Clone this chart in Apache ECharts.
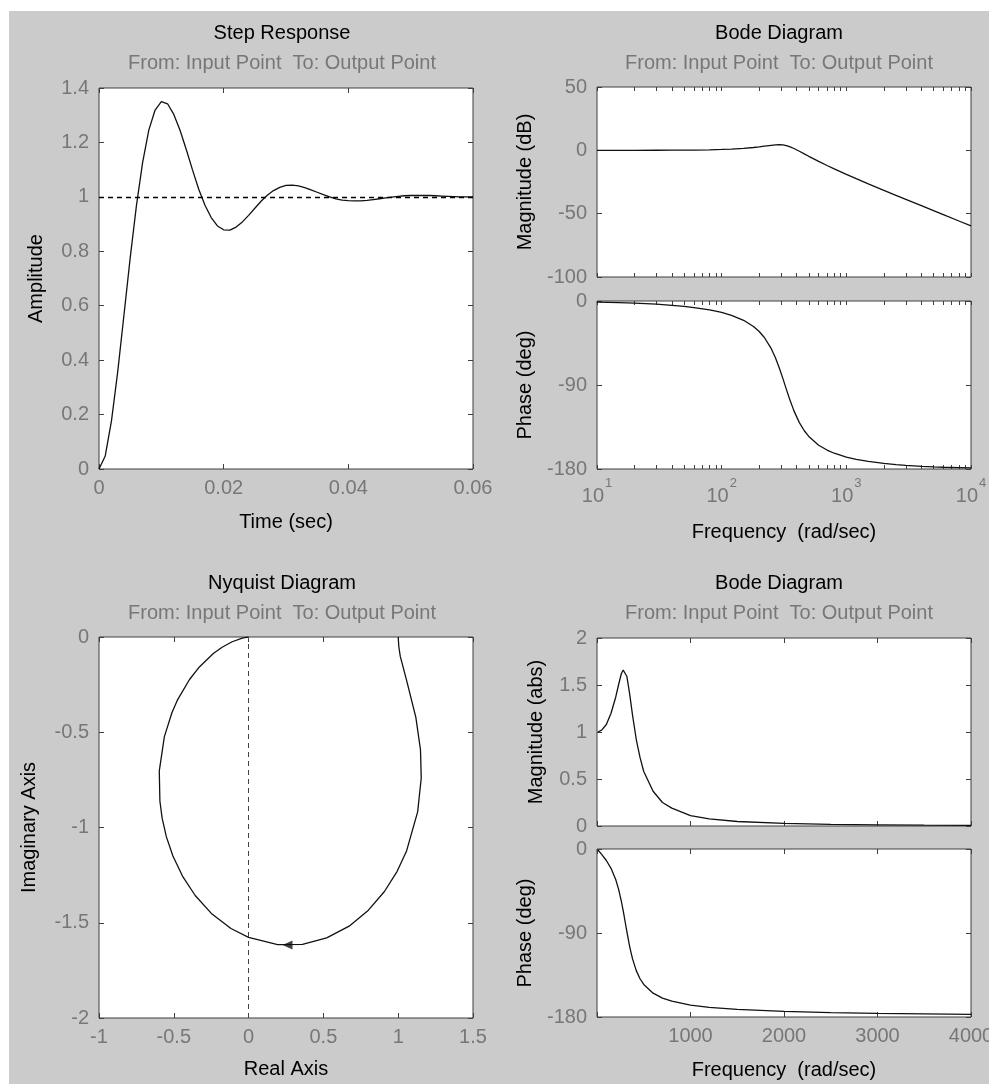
<!DOCTYPE html>
<html>
<head>
<meta charset="utf-8">
<script src="https://cdn.jsdelivr.net/npm/echarts@6/dist/echarts.min.js"></script>
<style>
html, body { margin: 0; padding: 0; background: #fff; }
#chart { position: absolute; left: 9px; top: 11px; width: 980px; height: 1073px; }
</style>
</head>
<body>
<div id="chart"></div>
<script>
// step response (sec / amplitude)
const stepTime = [0, 0.001, 0.002, 0.003, 0.004, 0.005, 0.006, 0.007, 0.008, 0.009,
  0.010, 0.011, 0.012, 0.013, 0.014, 0.015, 0.016, 0.017, 0.018, 0.019,
  0.020, 0.021, 0.022, 0.023, 0.024, 0.025, 0.026, 0.027, 0.028, 0.029,
  0.030, 0.031, 0.032, 0.033, 0.034, 0.035, 0.036, 0.037, 0.038, 0.039,
  0.040, 0.041, 0.042, 0.043, 0.044, 0.045, 0.046, 0.047, 0.048, 0.049,
  0.050, 0.051, 0.052, 0.053, 0.054, 0.055, 0.056, 0.057, 0.058, 0.059, 0.060];
const stepAmp = [0, 0.048, 0.177, 0.357, 0.565, 0.775, 0.967, 1.127, 1.246, 1.319,
  1.350, 1.342, 1.303, 1.245, 1.174, 1.099, 1.028, 0.969, 0.924, 0.893,
  0.879, 0.878, 0.889, 0.908, 0.932, 0.958, 0.984, 1.006, 1.023, 1.035,
  1.042, 1.043, 1.040, 1.034, 1.026, 1.017, 1.008, 1.000, 0.993, 0.988,
  0.986, 0.985, 0.985, 0.987, 0.990, 0.993, 0.996, 0.999, 1.002, 1.004,
  1.005, 1.005, 1.005, 1.005, 1.004, 1.003, 1.002, 1.001, 1.000, 1.000, 1.000];
const stepRef = 1;

// bode, log frequency (rad/sec)
const bodeFreq = [10, 15, 20, 30, 40, 50, 60, 80, 100, 120, 150, 180, 200, 220, 250, 270, 290,
  310, 330, 350, 380, 420, 460, 500, 600, 700, 800, 1000, 1200, 1500, 2000, 2500, 3000,
  4000, 5000, 6000, 8000, 10000];
const bodeMagDb = [0.0, 0.02, 0.03, 0.06, 0.11, 0.17, 0.24, 0.43, 0.68, 0.98, 1.55, 2.23, 2.74,
  3.26, 3.98, 4.31, 4.42, 4.23, 3.72, 2.94, 1.46, -0.70, -2.80, -4.71, -8.75, -11.98, -14.66,
  -18.95, -22.35, -26.41, -31.55, -35.49, -38.69, -43.72, -47.62, -50.79, -55.80, -59.68];
const bodePhase = [-1.1, -1.7, -2.3, -3.4, -4.6, -5.8, -7.0, -9.5, -12.3, -15.4, -20.7, -27.3,
  -32.7, -39.1, -51.1, -60.8, -71.7, -83.2, -94.4, -104.8, -117.7, -130.3, -139.0, -145.1,
  -154.5, -159.7, -163.1, -167.2, -169.6, -171.9, -174.0, -175.3, -176.1, -177.1, -177.7,
  -178.1, -178.5, -178.8];
const logTicks = [10, 20, 30, 40, 50, 60, 70, 80, 90, 100, 200, 300, 400, 500, 600, 700, 800, 900,
  1000, 2000, 3000, 4000, 5000, 6000, 7000, 8000, 9000, 10000];

// nyquist (real / imaginary)
const nyqRe = [1, 1.004, 1.014, 1.057, 1.118, 1.149, 1.154, 1.130, 1.056, 0.993, 0.908, 0.801,
  0.672, 0.522, 0.360, 0.194, 0, -0.118, -0.249, -0.357, -0.442, -0.506, -0.550, -0.578,
  -0.593, -0.597, -0.563, -0.512, -0.477, -0.395, -0.329, -0.236, -0.177, -0.110, -0.047,
  -0.026, 0];
const nyqIm = [0, -0.050, -0.102, -0.230, -0.422, -0.592, -0.740, -0.918, -1.123, -1.230,
  -1.336, -1.434, -1.518, -1.579, -1.613, -1.615, -1.577, -1.530, -1.451, -1.357, -1.255,
  -1.150, -1.048, -0.951, -0.861, -0.703, -0.523, -0.396, -0.333, -0.223, -0.157, -0.087,
  -0.054, -0.025, -0.007, -0.003, 0];
const nyqArrow = [[0.26, -1.617]];

// bode, linear frequency
const linFreq = [10, 50, 100, 150, 200, 230, 260, 280, 290, 300, 320, 350, 380, 420, 460, 500,
  600, 700, 800, 1000, 1200, 1500, 2000, 2500, 3000, 3500, 4000];
const linMag = [1.00, 1.02, 1.08, 1.20, 1.37, 1.50, 1.62, 1.66, 1.66, 1.65, 1.59, 1.40, 1.18,
  0.92, 0.73, 0.58, 0.37, 0.25, 0.19, 0.11, 0.076, 0.048, 0.027, 0.017, 0.012, 0.009, 0.007];
const linPhase = [-1.1, -5.8, -12.3, -20.7, -32.7, -42.7, -55.8, -66.1, -71.7, -77.4, -88.9,
  -104.8, -117.7, -130.3, -139.0, -145.1, -154.5, -159.7, -163.1, -167.2, -169.6, -171.9,
  -174.0, -175.3, -176.1, -176.6, -177.1];

const subTitle = 'From: Input Point  To: Output Point';

const FONT = '"Liberation Sans", Arial, sans-serif';
const FS = 20;
const OX = 9, OY = 11;
const INK = '#111111';
const FRAME = '#3f3f3f';
const MUTED = '#777777';

// page pixel boxes [x0, y0, x1, y1]
const boxes = [
  [99, 88, 473, 469],
  [597, 87, 971, 277],
  [597, 301, 971, 469],
  [99, 637, 473, 1018],
  [597, 638, 971, 826],
  [597, 849, 971, 1017]
];

const zip = (a, b) => a.map((v, i) => [v, b[i]]);

function ax(g, pos, scale, label, name, gap) {
  const a = {
    gridIndex: g,
    position: pos,
    type: scale.type || 'value',
    min: scale.min,
    max: scale.max,
    axisLine: { show: false, onZero: false },
    splitLine: { show: false },
    axisTick: { show: true, inside: true, length: 5, lineStyle: { color: FRAME, width: 1 } },
    axisLabel: label
      ? Object.assign({ color: MUTED, fontSize: FS, fontFamily: FONT, margin: 9 }, label)
      : { show: false }
  };
  if (scale.type === 'log') {
    a.logBase = 10;
    a.axisTick.customValues = logTicks;
    a.axisTick.length = 4;
  } else {
    a.interval = scale.interval;
  }
  if (name) {
    a.name = name;
    a.nameLocation = 'middle';
    a.nameGap = gap;
    a.nameTextStyle = { color: '#000', fontSize: FS, fontFamily: FONT };
  }
  return a;
}

const stepX = { min: 0, max: 0.06, interval: 0.02 };
const stepY = { min: 0, max: 1.4, interval: 0.2 };
const logX = { type: 'log', min: 10, max: 10000 };
const dbY = { min: -100, max: 50, interval: 50 };
const phY = { min: -180, max: 0, interval: 90 };
const nyX = { min: -1, max: 1.5, interval: 0.5 };
const nyY = { min: -2, max: 0, interval: 0.5 };
const linX = { min: 0, max: 4000, interval: 1000 };
const absY = { min: 0, max: 2, interval: 0.5 };

const logLabel = {
  margin: 8,
  customValues: [10, 100, 1000, 10000],
  formatter: v => '{b|10}{s|' + Math.round(Math.log10(v)) + '}',
  rich: {
    b: { fontSize: FS, color: MUTED, fontFamily: FONT, verticalAlign: 'bottom' },
    s: { fontSize: 13, color: MUTED, fontFamily: FONT, verticalAlign: 'top', padding: [0, 0, 16, 1] }
  }
};

const xAxis = [
  ax(0, 'bottom', stepX, {}, 'Time (sec)', 43), ax(0, 'top', stepX, null),
  ax(1, 'bottom', logX, null), ax(1, 'top', logX, null),
  ax(2, 'bottom', logX, logLabel, 'Frequency  (rad/sec)', 53), ax(2, 'top', logX, null),
  ax(3, 'bottom', nyX, {}, 'Real Axis', 41), ax(3, 'top', nyX, null),
  ax(4, 'bottom', linX, null), ax(4, 'top', linX, null),
  ax(5, 'bottom', linX, { formatter: v => (v === 0 ? '' : String(v)) }, 'Frequency  (rad/sec)', 43),
  ax(5, 'top', linX, null)
];
const yAxis = [
  ax(0, 'left', stepY, { margin: 10 }, 'Amplitude', 53), ax(0, 'right', stepY, null),
  ax(1, 'left', dbY, { margin: 10 }, 'Magnitude (dB)', 62), ax(1, 'right', dbY, null),
  ax(2, 'left', phY, { margin: 10 }, 'Phase (deg)', 62), ax(2, 'right', phY, null),
  ax(3, 'left', nyY, { margin: 10 }, 'Imaginary Axis', 60), ax(3, 'right', nyY, null),
  ax(4, 'left', absY, { margin: 10 }, 'Magnitude (abs)', 51), ax(4, 'right', absY, null),
  ax(5, 'left', phY, { margin: 10 }, 'Phase (deg)', 62), ax(5, 'right', phY, null)
];

function curve(g, data, extra) {
  return Object.assign({
    type: 'line', xAxisIndex: 2 * g, yAxisIndex: 2 * g, data: data,
    showSymbol: false, symbol: 'none', silent: true,
    lineStyle: { color: INK, width: 1.3 }
  }, extra || {});
}

const titles = [
  ['Step Response', 282, 33],
  ['Bode Diagram', 779, 33],
  ['Nyquist Diagram', 282, 583],
  ['Bode Diagram', 779, 583]
];
const graphic = [];
titles.forEach(t => {
  graphic.push({ type: 'text', x: t[1] - OX, y: t[2] - OY, silent: true,
    style: { text: t[0], fill: '#000', font: FS + 'px ' + FONT, align: 'center', verticalAlign: 'middle' } });
  graphic.push({ type: 'text', x: t[1] - OX, y: t[2] + 30 - OY, silent: true,
    style: { text: subTitle, fill: MUTED, font: FS + 'px ' + FONT, align: 'center', verticalAlign: 'middle' } });
});

const option = {
  animation: false,
  backgroundColor: '#cbcbcb',
  grid: boxes.map(b => ({
    left: b[0] - OX, top: b[1] - OY, width: b[2] - b[0], height: b[3] - b[1],
    containLabel: false, outerBoundsMode: 'none',
    show: true, backgroundColor: '#ffffff', borderColor: FRAME, borderWidth: 1
  })),
  xAxis: xAxis,
  yAxis: yAxis,
  graphic: graphic,
  series: [
    curve(0, zip(stepTime, stepAmp), {
      markLine: {
        silent: true, symbol: ['none', 'none'], label: { show: false },
        lineStyle: { color: '#000', type: [5, 4], width: 1.3 },
        data: [{ yAxis: stepRef }]
      }
    }),
    curve(1, zip(bodeFreq, bodeMagDb)),
    curve(2, zip(bodeFreq, bodePhase)),
    curve(3, zip(nyqRe, nyqIm), {
      markLine: {
        silent: true, symbol: ['none', 'none'], label: { show: false },
        lineStyle: { color: '#444', type: [5, 4], width: 1 },
        data: [{ xAxis: 0 }]
      }
    }),
    {
      type: 'scatter', xAxisIndex: 6, yAxisIndex: 6, data: nyqArrow, silent: true,
      symbol: 'triangle', symbolSize: [9, 10], symbolRotate: 90,
      itemStyle: { color: INK }
    },
    curve(4, zip(linFreq, linMag)),
    curve(5, zip(linFreq, linPhase))
  ]
};

const chart = echarts.init(document.getElementById('chart'));
chart.setOption(option);
</script>
</body>
</html>
